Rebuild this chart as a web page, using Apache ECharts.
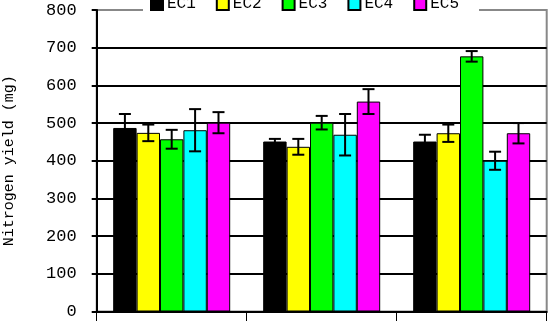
<!DOCTYPE html>
<html><head><meta charset="utf-8">
<script src="https://cdn.jsdelivr.net/npm/echarts@6/dist/echarts.min.js"></script>
<style>html,body{margin:0;padding:0;background:#fff}#c{width:549px;height:321px}</style>
</head><body><div id="c"></div>
<script>
const categories = ['G1', 'G2', 'G3'];
const seriesNames = ['EC1', 'EC2', 'EC3', 'EC4', 'EC5'];
const ec1 = [487, 451, 451];
const ec2 = [474, 437, 473];
const ec3 = [457, 501, 677];
const ec4 = [481, 469, 400];
const ec5 = [501, 557, 473];
const ec1Err = [37, 7, 18];
const ec2Err = [22, 21, 23];
const ec3Err = [25, 18, 14];
const ec4Err = [56, 55, 24];
const ec5Err = [28, 33, 27];
const yTicks = [0, 100, 200, 300, 400, 500, 600, 700, 800];

const values = [ec1, ec2, ec3, ec4, ec5];
const errs = [ec1Err, ec2Err, ec3Err, ec4Err, ec5Err];
const colors = ['#000000', '#ffff00', '#00ff00', '#00ffff', '#ff00ff'];
const GAP = 0.22;
const FONT = '"Liberation Mono", "Courier New", monospace';

const errData = [];
values.forEach((arr, si) => arr.forEach((v, ci) => errData.push([ci, si, v, errs[si][ci]])));

const chart = echarts.init(document.getElementById('c'), null, {renderer: 'canvas'});
const barSeries = seriesNames.map((n, i) => ({
  name: n, type: 'bar', data: values[i],
  barGap: '0%', barCategoryGap: (GAP * 100) + '%',
  itemStyle: {color: colors[i], borderColor: '#000', borderWidth: 1},
  emphasis: {disabled: true}, animation: false
}));
const errSeries = {
  type: 'custom', data: errData, z: 10, silent: true, animation: false,
  encode: {x: 0, y: 2},
  renderItem: function (params, api) {
    const ci = api.value(0), si = api.value(1), v = api.value(2), e = api.value(3);
    const band = api.size([1, 0])[0];
    const groupW = band * (1 - GAP);
    const bw = groupW / 5;
    const cx = api.coord([ci, 0])[0] - groupW / 2 + bw * (si + 0.5);
    const yHi = api.coord([ci, v + e])[1];
    const yLo = api.coord([ci, v - e])[1];
    const h = 6;
    const st = {stroke: '#000', lineWidth: 2};
    return {type: 'group', children: [
      {type: 'line', shape: {x1: cx, y1: yHi, x2: cx, y2: yLo}, style: st},
      {type: 'line', shape: {x1: cx - h, y1: yHi, x2: cx + h, y2: yHi}, style: st},
      {type: 'line', shape: {x1: cx - h, y1: yLo, x2: cx + h, y2: yLo}, style: st}
    ]};
  }
};
const lineColors = yTicks.map((t, i) => i === yTicks.length - 1 ? '#888' : '#000');
chart.setOption({
  animation: false,
  grid: {left: 96.7, right: 2.3, top: 10, bottom: 9.5, show: true, borderColor: '#888', borderWidth: 2,
         backgroundColor: 'transparent', containLabel: false, outerBoundsMode: 'none'},
  legend: {
    data: seriesNames, left: 143, top: -10, padding: [6, 20, 5, 7],
    backgroundColor: '#fff', itemWidth: 12, itemHeight: 12, itemGap: 20,
    icon: 'rect', selectedMode: false,
    textStyle: {fontFamily: FONT, fontSize: 16, color: '#000', padding: [0, 0, 0, -1]}
  },
  xAxis: {
    type: 'category', data: categories,
    axisLine: {lineStyle: {color: '#000', width: 2}},
    axisTick: {show: true, length: 10, lineStyle: {color: '#000', width: 1}},
    axisLabel: {show: false}, splitLine: {show: false}
  },
  yAxis: {
    type: 'value', min: 0, max: 800, interval: 100,
    name: 'Nitrogen yield (mg)', nameLocation: 'middle', nameGap: 80,
    nameTextStyle: {fontFamily: FONT, fontSize: 15, color: '#000'},
    axisLine: {show: true, lineStyle: {color: '#000', width: 2}},
    axisTick: {show: true, length: 5, lineStyle: {color: '#000', width: 2}},
    axisLabel: {fontFamily: FONT, fontSize: 17, color: '#000', margin: 20, padding: [0, 0, 6, 0]},
    splitLine: {show: true, lineStyle: {color: lineColors, width: 2}}
  },
  series: barSeries.concat([errSeries])
});
</script></body></html>
